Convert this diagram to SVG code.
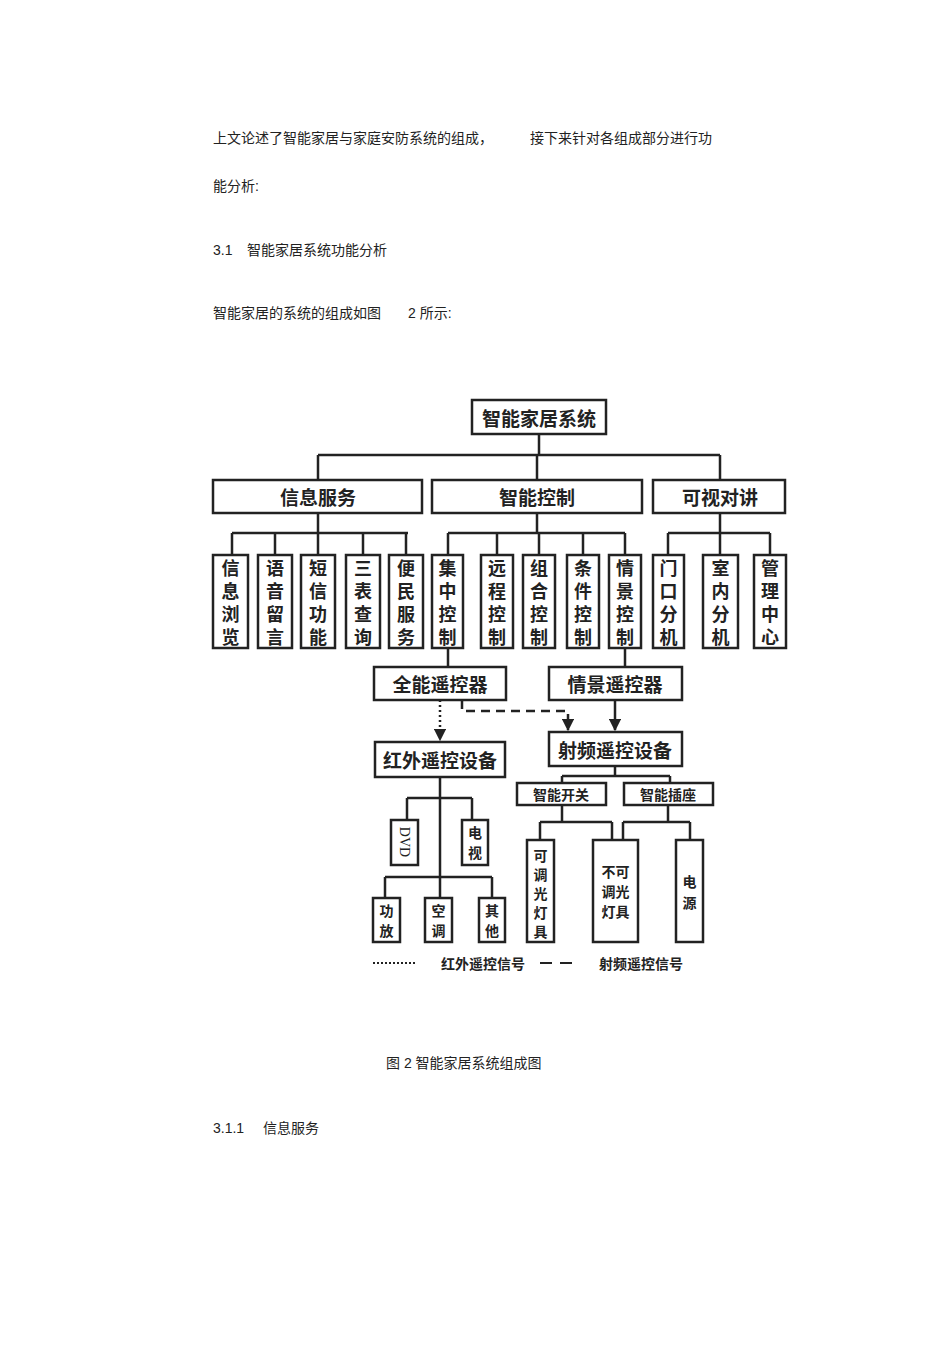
<svg xmlns="http://www.w3.org/2000/svg" width="950" height="1345" viewBox="0 0 950 1345">
<style>
.p{font-family:"Liberation Sans","Noto Sans CJK SC",sans-serif;font-size:14px;fill:#222}
.b{fill:#fff;stroke:#222;stroke-width:2.5}
.l{stroke:#222;stroke-width:2.5;fill:none}
.t{font-family:"Noto Sans CJK SC",serif;font-weight:bold;fill:#222;text-anchor:middle;dominant-baseline:central}
.h{font-size:19px}.v{font-size:18px}.s{font-size:14px}
</style>
<defs><marker id="a" viewBox="0 0 10 10" refX="9" refY="5" markerWidth="5" markerHeight="5" orient="auto"><path d="M0,0L10,5L0,10z" fill="#222"/></marker></defs>
<rect width="950" height="1345" fill="#fff"/>
<text class="p" x="213" y="143">上文论述了智能家居与家庭安防系统的组成，</text>
<text class="p" x="530" y="143">接下来针对各组成部分进行功</text>
<text class="p" x="213" y="191">能分析:</text>
<text class="p" x="213" y="255">3.1</text><text class="p" x="247" y="255">智能家居系统功能分析</text>
<text class="p" x="213" y="318">智能家居的系统的组成如图</text><text class="p" x="408" y="318">2 所示:</text>
<text class="p" x="386" y="1068">图 2 智能家居系统组成图</text>
<text class="p" x="213" y="1133">3.1.1</text><text class="p" x="263" y="1133">信息服务</text>
<g id="connectors">
<path class="l" d="M539,434V455M318,455H720M318,455V480M537,455V480M720,455V480"/>
<path class="l" d="M318,513V533M232,533H408M232,533V555M275,533V555M318,533V555M363,533V555M406,533V555"/>
<path class="l" d="M537,513V533M448,533H625M448,533V555M497,533V555M539,533V555M583,533V555M625,533V555"/>
<path class="l" d="M720,513V533M668,533H770M668,533V555M720,533V555M770,533V555"/>
<path class="l" d="M448,648V667M625,648V667"/>
<path d="M440,700V740" stroke="#222" stroke-width="2.5" stroke-dasharray="2,3" fill="none" marker-end="url(#a)"/>
<path d="M462,700V711H568V730" stroke="#222" stroke-width="2.5" stroke-dasharray="9,6" fill="none" marker-end="url(#a)"/>
<path class="l" d="M615,700V730" marker-end="url(#a)"/>
<path class="l" d="M615,766V776M562,776H670M562,776V783M670,776V783"/>
<path class="l" d="M562,805V822M540,822H612M540,822V840M612,822V840M668,805V822M623,822H690M623,822V840M690,822V840"/>
<path class="l" d="M440,777V898M407,798H472M407,798V820M472,798V820M385,877H492M385,877V898M492,877V898"/>
<path d="M373,963H415" stroke="#222" stroke-width="2" stroke-dasharray="2,2"/>
<path d="M540,963H578" stroke="#222" stroke-width="2" stroke-dasharray="12,8"/>
</g>
<text class="t s" x="483" y="963">红外遥控信号</text><text class="t s" x="641" y="963">射频遥控信号</text>
<g id="root"><rect class="b" x="472" y="400" width="134" height="34"/><text class="t h" x="539" y="417">智能家居系统</text></g>
<g id="n1"><rect class="b" x="213" y="480" width="209" height="33"/><text class="t h" x="318" y="496">信息服务</text></g>
<g id="n2"><rect class="b" x="432" y="480" width="210" height="33"/><text class="t h" x="537" y="496">智能控制</text></g>
<g id="n3"><rect class="b" x="653" y="480" width="132" height="33"/><text class="t h" x="720" y="496">可视对讲</text></g>
<g id="leaves">
<rect class="b" x="213" y="555" width="35" height="93"/><text class="t v"><tspan x="230.5" y="567">信</tspan><tspan x="230.5" y="590">息</tspan><tspan x="230.5" y="613">浏</tspan><tspan x="230.5" y="636">览</tspan></text>
<rect class="b" x="258" y="555" width="34" height="93"/><text class="t v"><tspan x="275" y="567">语</tspan><tspan x="275" y="590">音</tspan><tspan x="275" y="613">留</tspan><tspan x="275" y="636">言</tspan></text>
<rect class="b" x="301" y="555" width="34" height="93"/><text class="t v"><tspan x="318" y="567">短</tspan><tspan x="318" y="590">信</tspan><tspan x="318" y="613">功</tspan><tspan x="318" y="636">能</tspan></text>
<rect class="b" x="346" y="555" width="34" height="93"/><text class="t v"><tspan x="363" y="567">三</tspan><tspan x="363" y="590">表</tspan><tspan x="363" y="613">查</tspan><tspan x="363" y="636">询</tspan></text>
<rect class="b" x="389" y="555" width="34" height="93"/><text class="t v"><tspan x="406" y="567">便</tspan><tspan x="406" y="590">民</tspan><tspan x="406" y="613">服</tspan><tspan x="406" y="636">务</tspan></text>
<rect class="b" x="432" y="555" width="31" height="93"/><text class="t v"><tspan x="447.5" y="567">集</tspan><tspan x="447.5" y="590">中</tspan><tspan x="447.5" y="613">控</tspan><tspan x="447.5" y="636">制</tspan></text>
<rect class="b" x="481" y="555" width="32" height="93"/><text class="t v"><tspan x="497" y="567">远</tspan><tspan x="497" y="590">程</tspan><tspan x="497" y="613">控</tspan><tspan x="497" y="636">制</tspan></text>
<rect class="b" x="523" y="555" width="32" height="93"/><text class="t v"><tspan x="539" y="567">组</tspan><tspan x="539" y="590">合</tspan><tspan x="539" y="613">控</tspan><tspan x="539" y="636">制</tspan></text>
<rect class="b" x="567" y="555" width="32" height="93"/><text class="t v"><tspan x="583" y="567">条</tspan><tspan x="583" y="590">件</tspan><tspan x="583" y="613">控</tspan><tspan x="583" y="636">制</tspan></text>
<rect class="b" x="609" y="555" width="32" height="93"/><text class="t v"><tspan x="625" y="567">情</tspan><tspan x="625" y="590">景</tspan><tspan x="625" y="613">控</tspan><tspan x="625" y="636">制</tspan></text>
<rect class="b" x="653" y="555" width="31" height="93"/><text class="t v"><tspan x="668.5" y="567">门</tspan><tspan x="668.5" y="590">口</tspan><tspan x="668.5" y="613">分</tspan><tspan x="668.5" y="636">机</tspan></text>
<rect class="b" x="703" y="555" width="35" height="93"/><text class="t v"><tspan x="720.5" y="567">室</tspan><tspan x="720.5" y="590">内</tspan><tspan x="720.5" y="613">分</tspan><tspan x="720.5" y="636">机</tspan></text>
<rect class="b" x="754" y="555" width="32" height="93"/><text class="t v"><tspan x="770" y="567">管</tspan><tspan x="770" y="590">理</tspan><tspan x="770" y="613">中</tspan><tspan x="770" y="636">心</tspan></text>
</g>
<g id="quan"><rect class="b" x="374" y="667" width="132" height="33"/><text class="t h" x="440" y="683">全能遥控器</text></g>
<g id="qing"><rect class="b" x="549" y="667" width="133" height="33"/><text class="t h" x="615" y="683">情景遥控器</text></g>
<g id="hongwai"><rect class="b" x="375" y="742" width="130" height="35"/><text class="t h" x="440" y="759">红外遥控设备</text></g>
<g id="shepin"><rect class="b" x="549" y="732" width="133" height="34"/><text class="t h" x="615" y="749">射频遥控设备</text></g>
<g id="kaiguan"><rect class="b" x="517" y="783" width="89" height="22"/><text class="t s" x="561" y="794">智能开关</text></g>
<g id="chazuo"><rect class="b" x="624" y="783" width="89" height="22"/><text class="t s" x="668" y="794">智能插座</text></g>
<g id="dvd"><rect class="b" x="391" y="820" width="27" height="45"/><text class="t s" style="font-weight:normal;font-family:'Liberation Serif',serif" transform="translate(404.5,842) rotate(90)" x="0" y="0">DVD</text></g>
<g id="tv"><rect class="b" x="462" y="820" width="26" height="45"/><text class="t s"><tspan x="475" y="832">电</tspan><tspan x="475" y="852">视</tspan></text></g>
<g id="gf"><rect class="b" x="373" y="898" width="27" height="44"/><text class="t s"><tspan x="386.5" y="910">功</tspan><tspan x="386.5" y="930">放</tspan></text></g>
<g id="kt"><rect class="b" x="425" y="898" width="27" height="44"/><text class="t s"><tspan x="438.5" y="910">空</tspan><tspan x="438.5" y="930">调</tspan></text></g>
<g id="qt"><rect class="b" x="479" y="898" width="26" height="44"/><text class="t s"><tspan x="492" y="910">其</tspan><tspan x="492" y="930">他</tspan></text></g>
<g id="tg"><rect class="b" x="527" y="840" width="27" height="102"/><text class="t s"><tspan x="540.5" y="855">可</tspan><tspan x="540.5" y="874">调</tspan><tspan x="540.5" y="893">光</tspan><tspan x="540.5" y="912">灯</tspan><tspan x="540.5" y="931">具</tspan></text></g>
<g id="btg"><rect class="b" x="593" y="840" width="45" height="102"/><text class="t s"><tspan x="615.5" y="871">不可</tspan><tspan x="615.5" y="891">调光</tspan><tspan x="615.5" y="911">灯具</tspan></text></g>
<g id="dy"><rect class="b" x="676" y="840" width="27" height="102"/><text class="t s"><tspan x="689.5" y="881">电</tspan><tspan x="689.5" y="902">源</tspan></text></g>
</svg>
